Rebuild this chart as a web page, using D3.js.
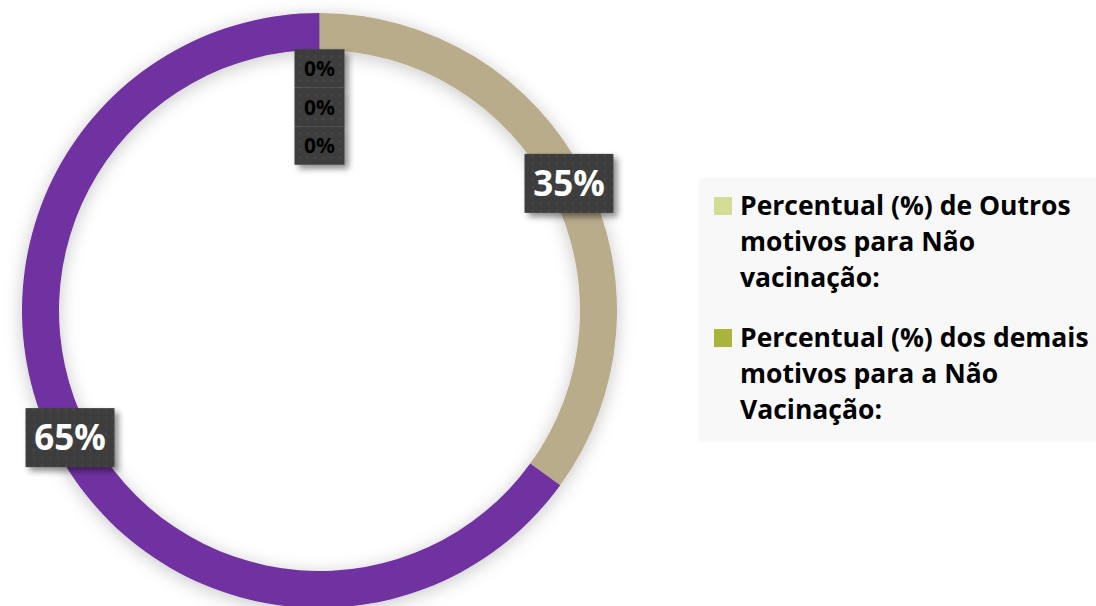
<!DOCTYPE html>
<html><head><meta charset="utf-8">
<script src="https://cdn.jsdelivr.net/npm/d3@7"></script>
<style>
html,body{margin:0;padding:0;background:#fff;}
svg{display:block;}
text{font-family:"Open Sans","Noto Sans",sans-serif;font-weight:bold;}
</style></head>
<body>
<svg id="chart" width="1096" height="606"></svg>
<script>
// ---- data ----
const categories = ["Outros motivos", "Demais motivos", "Cat 3", "Cat 4", "Cat 5"];
const values = [35, 65, 0, 0, 0];
const sliceColors = ["#B9AC8B", "#7030A0", "#D3DD95", "#A8B43A", "#8EA0C8"];
const legendLabels = [
  ["Percentual (%) de Outros", "motivos para Não", "vacinação:"],
  ["Percentual (%) dos demais", "motivos para a Não", "Vacinação:"]
];
const legendColors = ["#D3DD95", "#A8B43A"];

// ---- layout ----
const W = 1096, H = 606;
const cx = 319.5, cy = 310.5, outerR = 297.5, innerR = 260.5;
const svg = d3.select("#chart");
const defs = svg.append("defs");

const ringShadow = defs.append("filter").attr("id","ringShadow")
  .attr("x","-20%").attr("y","-20%").attr("width","140%").attr("height","140%");
ringShadow.append("feDropShadow").attr("dx",0).attr("dy",3).attr("stdDeviation",9)
  .attr("flood-color","#000").attr("flood-opacity",0.22);

const boxShadow = defs.append("filter").attr("id","boxShadow")
  .attr("x","-30%").attr("y","-30%").attr("width","170%").attr("height","170%");
boxShadow.append("feDropShadow").attr("dx",4).attr("dy",4).attr("stdDeviation",3)
  .attr("flood-color","#000").attr("flood-opacity",0.45);

const pat = defs.append("pattern").attr("id","dots").attr("patternUnits","userSpaceOnUse")
  .attr("width",8).attr("height",8);
pat.append("rect").attr("width",8).attr("height",8).attr("fill","#3c3c3c");
pat.append("circle").attr("cx",4).attr("cy",4).attr("r",1.6).attr("fill","#474747");

const pie = d3.pie().sort(null).value(d => d)(values);
const arc = d3.arc().innerRadius(innerR).outerRadius(outerR);

const g = svg.append("g").attr("transform",`translate(${cx},${cy})`);
g.append("g").attr("filter","url(#ringShadow)")
  .selectAll("path").data(pie).join("path")
  .attr("d", arc)
  .attr("fill", (d,i) => sliceColors[i]);

// ---- labels ----
const labelG = g.append("g");
pie.forEach((d,i) => {
  const isZero = values[i] === 0;
  let ang, r;
  if (!isZero) {
    ang = (d.startAngle + d.endAngle)/2;
    r = 280;
  } else {
    const k = i - 2;
    ang = d.startAngle;
    r = 242 - k*38.5;
  }
  const x = Math.sin(ang)*r, y = -Math.cos(ang)*r;
  const bw = isZero ? 50 : 89, bh = isZero ? 38.5 : 59;
  const lg = labelG.append("g").attr("transform",`translate(${x},${y})`);
  lg.append("rect").attr("x",-bw/2).attr("y",-bh/2).attr("width",bw).attr("height",bh)
    .attr("fill","url(#dots)").attr("filter","url(#boxShadow)");
  lg.append("text").attr("text-anchor","middle").attr("dy","0.36em")
    .attr("font-size", isZero ? 21 : 35)
    .attr("fill", isZero ? "#000" : "#fff")
    .text(d3.format(".0%")(values[i]/100));
});

// ---- legend ----
const leg = svg.append("g");
leg.append("rect").attr("x",699).attr("y",178).attr("width",W-699).attr("height",264).attr("fill","#F8F8F8");
const lineH = 36, itemGap = 24;
legendLabels.forEach((lines,i) => {
  const y0 = 215 + i*(lines.length*lineH + itemGap);
  leg.append("rect").attr("x",714).attr("y",y0-18).attr("width",18).attr("height",18).attr("fill",legendColors[i]);
  const t = leg.append("text").attr("x",740).attr("y",y0).attr("font-size",26.5).attr("fill","#000");
  lines.forEach((ln,j) => {
    t.append("tspan").attr("x",740).attr("y",y0 + j*lineH).text(ln);
  });
});
</script>
</body></html>
